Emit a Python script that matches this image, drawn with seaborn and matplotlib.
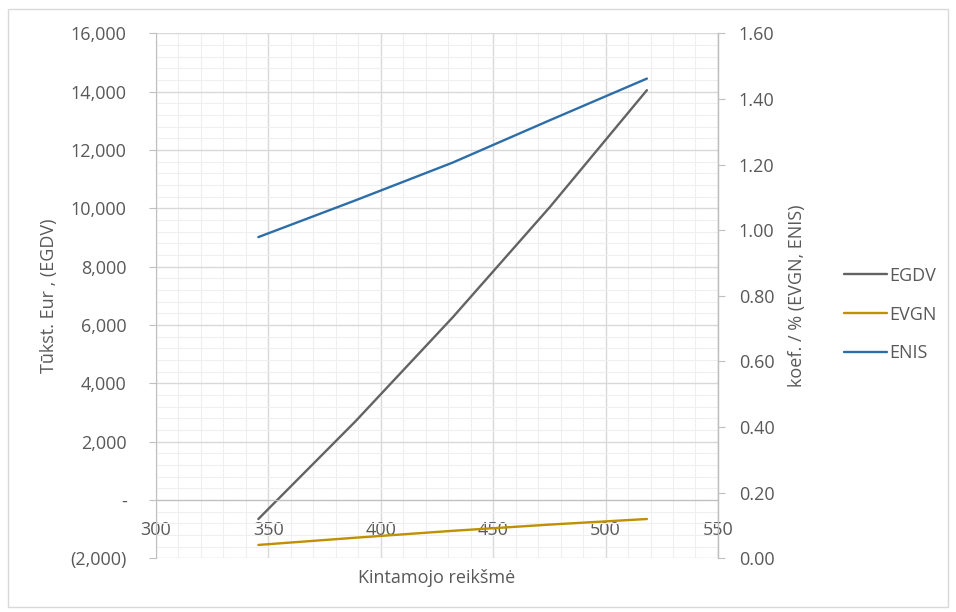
import numpy as np
import pandas as pd
import matplotlib
matplotlib.use('Agg')
import matplotlib.pyplot as plt
import seaborn as sns
from matplotlib.ticker import MultipleLocator, FuncFormatter
from matplotlib.patches import Rectangle

## duomenys
x_vals = [345.6, 388.8, 432.0, 475.2, 518.4]
egdv = [-650, 2700, 6260, 10040, 14050]
evgn = [0.041, 0.063, 0.084, 0.103, 0.120]
enis = [0.979, 1.091, 1.206, 1.335, 1.462]

df = pd.DataFrame({'x': x_vals, 'EGDV': egdv, 'EVGN': evgn, 'ENIS': enis})

sns.set_style('white')
plt.rcParams['font.family'] = ['Open Sans', 'DejaVu Sans']
plt.rcParams['font.size'] = 13

txt = '#595959'
c_egdv = '#636363'
c_evgn = '#bf9000'
c_enis = '#2e6ea8'
fs = 13

fig = plt.figure(figsize=(9.56, 6.12), dpi=100)
ax = fig.add_axes([0.163, 0.0876, 0.588, 0.858])
ax2 = ax.twinx()

sns.lineplot(data=df, x='x', y='EGDV', ax=ax, color=c_egdv, lw=1.7, label='EGDV', legend=False)
sns.lineplot(data=df, x='x', y='EVGN', ax=ax2, color=c_evgn, lw=1.7, label='EVGN', legend=False)
sns.lineplot(data=df, x='x', y='ENIS', ax=ax2, color=c_enis, lw=1.7, label='ENIS', legend=False)

ax.set_xlim(300, 550)
ax.set_ylim(-2000, 16000)
ax2.set_ylim(0, 1.6)

ax.xaxis.set_major_locator(MultipleLocator(50))
ax.xaxis.set_minor_locator(MultipleLocator(10))
ax.yaxis.set_major_locator(MultipleLocator(2000))
ax.yaxis.set_minor_locator(MultipleLocator(400))
ax2.yaxis.set_major_locator(MultipleLocator(0.2))


def acc_fmt(v, pos):
    if abs(v) < 1e-9:
        return '-'
    if v < 0:
        return '({:,.0f})'.format(-v)
    return '{:,.0f}'.format(v)


ax.yaxis.set_major_formatter(FuncFormatter(acc_fmt))
ax2.yaxis.set_major_formatter(FuncFormatter(lambda v, p: '{:.2f}'.format(v)))

ax.grid(which='major', color='#d9d9d9', lw=1.0)
ax.grid(which='minor', color='#efefef', lw=0.8)
ax.set_axisbelow(True)

for a in (ax, ax2):
    a.spines['top'].set_visible(False)
ax.spines['bottom'].set_position(('data', 0))
ax.spines['bottom'].set_color('#bfbfbf')
ax.spines['left'].set_color('#bfbfbf')
ax2.spines['right'].set_color('#bfbfbf')
ax2.spines['left'].set_visible(False)
ax2.spines['bottom'].set_visible(False)

ax.tick_params(axis='x', which='major', direction='out', length=5, color='#bfbfbf',
               labelcolor=txt, labelsize=fs, pad=10)
ax.tick_params(axis='x', which='minor', length=0)
ax.tick_params(axis='y', which='major', direction='out', length=5, color='#bfbfbf',
               labelcolor=txt, labelsize=fs, pad=16)
ax.tick_params(axis='y', which='minor', length=0)
ax2.tick_params(axis='y', which='major', direction='out', length=5, color='#bfbfbf',
                labelcolor=txt, labelsize=fs, pad=10)

ax.set_xlabel('Kintamojo reikšmė', color=txt, fontsize=fs)
ax.xaxis.set_label_coords(0.5, -0.02)
ax.set_ylabel('Tūkst. Eur , (EGDV)', color=txt, fontsize=fs)
ax.yaxis.set_label_coords(-0.174, 0.5)
ax2.set_ylabel('koef. / % (EVGN, ENIS)', color=txt, fontsize=fs)
ax2.yaxis.set_label_coords(1.124, 0.5)

h1, l1 = ax.get_legend_handles_labels()
h2, l2 = ax2.get_legend_handles_labels()
fig.legend(h1 + h2, l1 + l2, loc='center left', bbox_to_anchor=(0.866, 0.486),
           frameon=False, fontsize=fs, labelcolor=txt, handlelength=2.4,
           handletextpad=0.1, labelspacing=1.15)

fig.add_artist(Rectangle((0.008, 0.008), 0.984, 0.978, transform=fig.transFigure,
                         fill=False, edgecolor='#d9d9d9', lw=1))

plt.savefig('out.png', dpi=100)
